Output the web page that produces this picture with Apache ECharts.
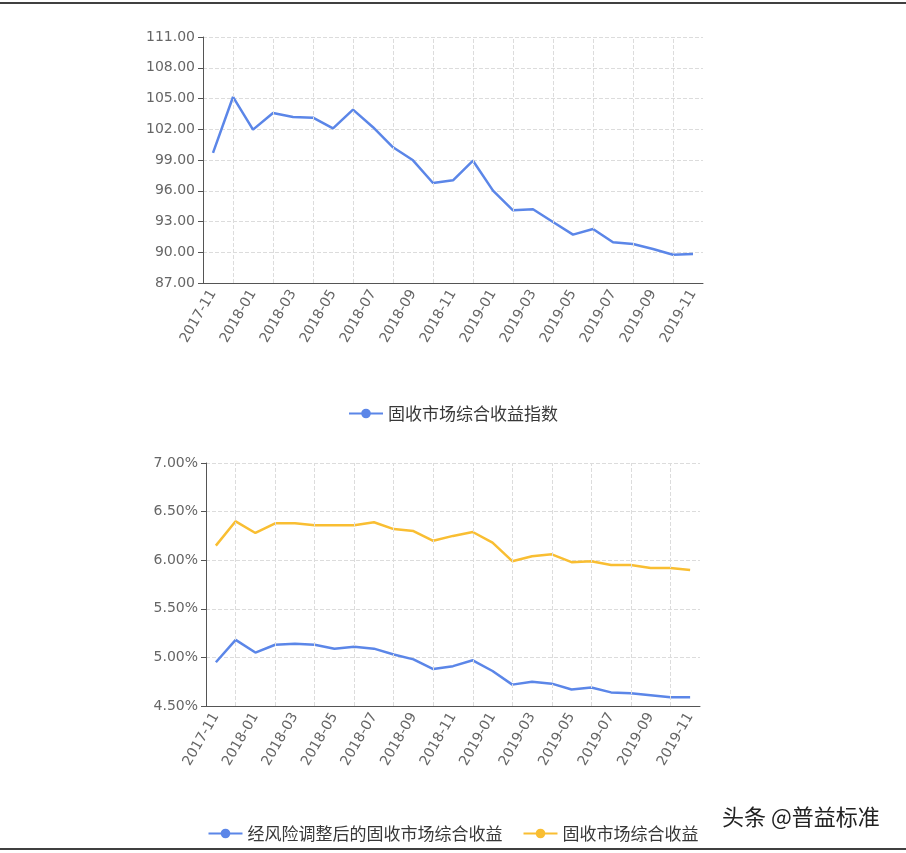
<!DOCTYPE html>
<html>
<head>
<meta charset="utf-8">
<script src="https://cdn.jsdelivr.net/npm/echarts@6/dist/echarts.min.js"></script>
<style>
html,body{margin:0;padding:0;background:#fff;}
#c{width:906px;height:853px;}
</style>
</head>
<body>
<div id="c"></div>
<script>
const categories = ['2017-11','2017-12','2018-01','2018-02','2018-03','2018-04','2018-05','2018-06','2018-07','2018-08','2018-09','2018-10','2018-11','2018-12','2019-01','2019-02','2019-03','2019-04','2019-05','2019-06','2019-07','2019-08','2019-09','2019-10','2019-11'];
const indexName = '固收市场综合收益指数';
const indexValues = [99.7,105.15,101.96,103.59,103.2,103.13,102.09,103.91,102.2,100.24,98.97,96.76,97.02,98.93,96.01,94.09,94.19,92.95,91.72,92.27,90.97,90.8,90.32,89.76,89.83];
const riskAdjName = '经风险调整后的固收市场综合收益';
const riskAdjValues = [4.95,5.18,5.05,5.13,5.14,5.13,5.09,5.11,5.09,5.03,4.98,4.88,4.91,4.97,4.86,4.72,4.75,4.73,4.67,4.69,4.64,4.63,4.61,4.59,4.59];
const returnName = '固收市场综合收益';
const returnValues = [6.15,6.40,6.28,6.38,6.38,6.36,6.36,6.36,6.39,6.32,6.30,6.20,6.25,6.29,6.18,5.99,6.04,6.06,5.98,5.99,5.95,5.95,5.92,5.92,5.90];
const watermark = '头条 @普益标准';

const BLUE = '#5B86E8';
const YELLOW = '#F9BE32';
const AXIS = '#555';
const LABEL = '#666';
const GRIDC = '#dcdcdc';

const vLines = categories.filter((c, i) => i % 2 === 1).map(c => ({xAxis: c}));
const markLine = {
  silent: true, symbol: 'none', animation: false,
  label: {show: false},
  lineStyle: {type: 'dashed', color: GRIDC, width: 1},
  data: vLines
};

function xAxisCfg(gridIndex) {
  return {
    type: 'category', gridIndex, data: categories, boundaryGap: true,
    axisLine: {lineStyle: {color: AXIS}},
    axisTick: {interval: 1, alignWithLabel: true, lineStyle: {color: AXIS}},
    axisLabel: {interval: 1, rotate: 60, color: LABEL, fontSize: 14, fontFamily: 'DejaVu Sans', margin: 8},
    splitLine: {show: false}
  };
}
function yAxisCfg(gridIndex, min, max, interval, fmt) {
  return {
    type: 'value', gridIndex, min, max, interval,
    axisLine: {show: true, lineStyle: {color: AXIS}},
    axisTick: {show: true, lineStyle: {color: AXIS}},
    axisLabel: {color: LABEL, fontSize: 14, fontFamily: 'DejaVu Sans', formatter: fmt},
    splitLine: {show: true, lineStyle: {type: 'dashed', color: GRIDC}}
  };
}
const legendText = {color: '#383838', fontSize: 17, fontFamily: 'Noto Sans CJK SC'};

const chart = echarts.init(document.getElementById('c'));
chart.setOption({
  animation: false,
  backgroundColor: '#fff',
  grid: [
    {left: 203, right: 203, top: 37, height: 246},
    {left: 206, right: 206, top: 463, height: 243}
  ],
  legend: [
    {data: [indexName], left: 'center', top: 400, itemWidth: 34, itemHeight: 12, textStyle: legendText},
    {data: [riskAdjName, returnName], left: 'center', top: 820, itemWidth: 34, itemHeight: 12, itemGap: 20, textStyle: legendText}
  ],
  xAxis: [xAxisCfg(0), xAxisCfg(1)],
  yAxis: [
    yAxisCfg(0, 87, 111, 3, v => v.toFixed(2)),
    yAxisCfg(1, 4.5, 7, 0.5, v => v.toFixed(2) + '%')
  ],
  series: [
    {name: indexName, type: 'line', xAxisIndex: 0, yAxisIndex: 0, data: indexValues,
     symbol: 'circle', symbolSize: 10, showSymbol: false, color: BLUE, lineStyle: {width: 2.5, color: BLUE}, markLine},
    {name: riskAdjName, type: 'line', xAxisIndex: 1, yAxisIndex: 1, data: riskAdjValues,
     symbol: 'circle', symbolSize: 10, showSymbol: false, color: BLUE, lineStyle: {width: 2.5, color: BLUE}, markLine},
    {name: returnName, type: 'line', xAxisIndex: 1, yAxisIndex: 1, data: returnValues,
     symbol: 'circle', symbolSize: 10, showSymbol: false, color: YELLOW, lineStyle: {width: 2.5, color: YELLOW}}
  ],
  graphic: [
    {type: 'line', shape: {x1: 0, y1: 3, x2: 906, y2: 3}, style: {stroke: '#000', lineWidth: 1.5}},
    {type: 'line', shape: {x1: 0, y1: 849, x2: 906, y2: 849}, style: {stroke: '#000', lineWidth: 1.5}},
    {type: 'text', left: 722, top: 806, style: {text: watermark, fill: '#222', fontSize: 22, fontFamily: 'Noto Sans CJK SC'}}
  ]
});
</script>
</body>
</html>
